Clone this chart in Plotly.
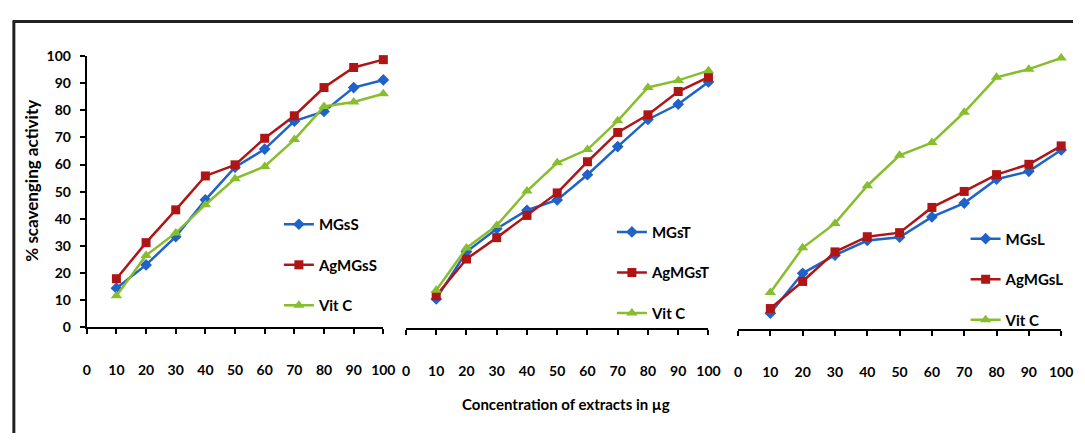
import plotly.graph_objects as go

W, H = 1085, 441

conc = [10, 20, 30, 40, 50, 60, 70, 80, 90, 100]
x_ticks = [0, 10, 20, 30, 40, 50, 60, 70, 80, 90, 100]
y_ticks = [0, 10, 20, 30, 40, 50, 60, 70, 80, 90, 100]

# Panel 1
mgss = [14.4, 23.0, 33.4, 47.0, 59.0, 65.7, 76.0, 79.6, 88.4, 91.2]
agmgss = [17.9, 31.2, 43.3, 55.8, 59.9, 69.7, 78.0, 88.4, 95.8, 98.7]
vitc_s = [11.6, 26.5, 34.8, 45.2, 54.8, 59.3, 69.2, 81.4, 83.1, 86.1]
# Panel 2
mgst = [10.8, 28.2, 36.7, 43.5, 47.3, 56.6, 67.0, 77.0, 82.6, 90.8]
agmgst = [12.0, 25.5, 33.4, 41.6, 49.9, 61.4, 72.2, 78.7, 87.3, 92.6]
vitc_t = [14.0, 29.6, 37.9, 50.6, 61.0, 65.9, 76.5, 88.8, 91.4, 95.0]
# Panel 3
mgsl = [5.9, 20.6, 27.3, 32.7, 33.9, 41.4, 46.5, 55.3, 58.2, 66.1]
agmgsl = [7.6, 17.6, 28.5, 34.1, 35.6, 44.9, 50.8, 57.0, 60.8, 67.6]
vitc_l = [13.5, 30.0, 39.0, 52.9, 64.1, 68.8, 80.0, 92.9, 95.9, 100.0]

names = [["MGsS", "AgMGsS", "Vit C"], ["MGsT", "AgMGsT", "Vit C"], ["MGsL", "AgMGsL", "Vit C"]]
panels = [[mgss, agmgss, vitc_s], [mgst, agmgst, vitc_t], [mgsl, agmgsl, vitc_l]]

BLUE = "#1F62C8"
RED = "#B01515"
GREEN = "#86BE2E"
colors = [BLUE, RED, GREEN]
symbols = ["diamond", "square", "triangle-up"]
msizes = [9, 9, 10]

FONT = "Lato"

def px(x):
    return x / W

def py(y):
    return 1 - y / H

# pixel geometry of panels: (x0, x100, ybase, y100)
geom = [(84, 385, 331, 49), (408, 715, 332, 50), (745, 1073, 333, 51)]
leg_pos = [(279, 207), (617, 215), (976, 222)]

fig = go.Figure()

for i, (series, nm) in enumerate(zip(panels, names)):
    sfx = "" if i == 0 else str(i + 1)
    for j, vals in enumerate(series):
        fig.add_trace(go.Scatter(
            x=conc, y=vals, name=nm[j], mode="lines+markers",
            line=dict(color=colors[j], width=2.5),
            marker=dict(symbol=symbols[j], size=msizes[j], color=colors[j]),
            xaxis="x" + sfx, yaxis="y" + sfx,
            legend="legend" + sfx, legendgroup=f"g{i}{j}",
            cliponaxis=False,
        ))

layout = dict(
    width=W, height=H,
    margin=dict(l=0, r=0, t=0, b=0),
    paper_bgcolor="white", plot_bgcolor="white",
    font=dict(family=FONT, color="black"),
    shapes=[
        dict(type="line", xref="paper", yref="paper", x0=px(9), x1=1.0, y0=py(13), y1=py(13),
             line=dict(color="#222222", width=3)),
        dict(type="line", xref="paper", yref="paper", x0=px(10), x1=px(10), y0=py(12), y1=0,
             line=dict(color="#222222", width=3)),
    ],
    annotations=[
        dict(text="<b>% scavenging activity</b>", xref="paper", yref="paper",
             x=px(28), y=py(179), xanchor="center", yanchor="middle",
             textangle=-90, showarrow=False,
             font=dict(size=17, family=FONT, color="black")),
        dict(text="<b>Concentration of extracts in µg</b>", xref="paper", yref="paper",
             x=px(570), y=py(411), xanchor="center", yanchor="middle", showarrow=False,
             font=dict(size=15, family=FONT, color="black")),
    ],
)

for i, (x0, x1, yb, yt) in enumerate(geom):
    sfx = "" if i == 0 else str(i + 1)
    layout["xaxis" + sfx] = dict(
        domain=[px(x0), px(x1)], range=[0, 100], anchor="y" + sfx,
        tickvals=x_ticks, ticktext=[str(t) for t in x_ticks],
        showline=True, linecolor="black", linewidth=2,
        ticks="outside", ticklen=5, tickwidth=1.5, tickcolor="black",
        showgrid=False, zeroline=False, ticklabelstandoff=24,
        tickfont=dict(size=14, family=FONT, color="black", weight="bold"),
    )
    ya = dict(
        domain=[py(yb), py(yt)], range=[0, 100], anchor="x" + sfx,
        showgrid=False, zeroline=False,
    )
    if i == 0:
        ya.update(tickvals=y_ticks, showline=True, linecolor="black", linewidth=2,
                  ticks="outside", ticklen=5, tickwidth=1.5, tickcolor="black",
                  ticklabelstandoff=6,
                  tickfont=dict(size=14, family=FONT, color="black", weight="bold"))
    else:
        ya.update(showline=False, showticklabels=False, ticks="")
    layout["yaxis" + sfx] = ya
    lx, ly = leg_pos[i]
    layout["legend" + sfx] = dict(
        x=px(lx), y=py(ly), xanchor="left", yanchor="top",
        bgcolor="rgba(0,0,0,0)", tracegroupgap=18,
        font=dict(size=15, family=FONT, color="black", weight="bold"),
        itemwidth=30,
    )

fig.update_layout(**layout)
fig.write_html("out.html")
